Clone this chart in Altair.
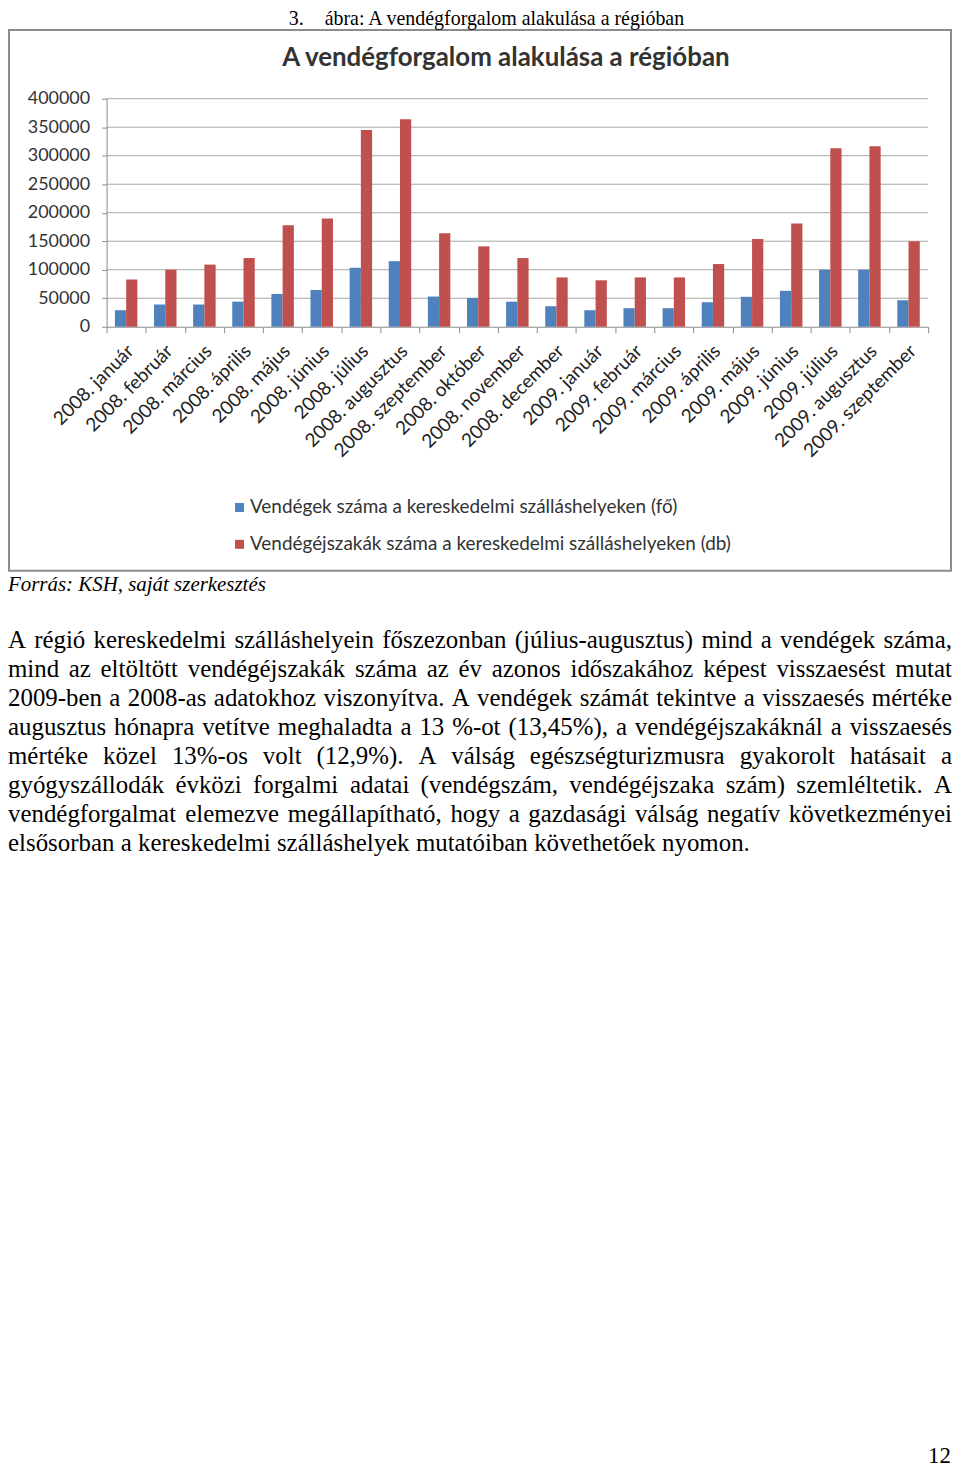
import altair as alt
import pandas as pd

# ---------------- data ----------------
months = ["2008. január", "2008. február", "2008. március", "2008. április", "2008. május",
          "2008. június", "2008. július", "2008. augusztus", "2008. szeptember", "2008. október",
          "2008. november", "2008. december", "2009. január", "2009. február", "2009. március",
          "2009. április", "2009. május", "2009. június", "2009. július", "2009. augusztus",
          "2009. szeptember"]
guests = [29000, 39000, 39000, 44000, 57500, 64500, 103500, 115000, 53000, 50500, 44000, 36000,
          29000, 32500, 32500, 43000, 52500, 63000, 100000, 100000, 46500]
nights = [83000, 100000, 109000, 120500, 178000, 190000, 345000, 364000, 164000, 141000, 120500,
          86500, 81500, 86500, 86500, 110000, 154000, 181000, 313000, 316500, 150000]
series = ["Vendégek száma a kereskedelmi szálláshelyeken (fő)",
          "Vendégéjszakák száma a kereskedelmi szálláshelyeken (db)"]
colors = ["#4F81BD", "#C0504D"]
y_ticks = [0, 50000, 100000, 150000, 200000, 250000, 300000, 350000, 400000]

chart_title = "A vendégforgalom alakulása a régióban"
caption_num = "3."
caption_text = "ábra: A vendégforgalom alakulása a régióban"
source_text = "Forrás: KSH, saját szerkesztés"
page_number = "12"
para_lines = [
    "A régió kereskedelmi szálláshelyein főszezonban (július-augusztus) mind a vendégek száma,",
    "mind az eltöltött vendégéjszakák száma az év azonos időszakához képest visszaesést mutat",
    "2009-ben a 2008-as adatokhoz viszonyítva. A vendégek számát tekintve a visszaesés mértéke",
    "augusztus hónapra vetítve meghaladta a 13 %-ot (13,45%), a vendégéjszakáknál a visszaesés",
    "mértéke közel 13%-os volt (12,9%). A válság egészségturizmusra gyakorolt hatásait a",
    "gyógyszállodák évközi forgalmi adatai (vendégszám, vendégéjszaka szám) szemléltetik. A",
    "vendégforgalmat elemezve megállapítható, hogy a gazdasági válság negatív következményei",
    "elsősorban a kereskedelmi szálláshelyek mutatóiban követhetőek nyomon.",
]

# ---------------- layout (styling) ----------------
W, H = 948, 1460
PX0, PX1, PY0, PY1 = 99, 924, 88, 317     # plot area in canvas px
SERIF = "Liberation Serif"
SANS = "Lato"

# Times-compatible advance widths (1/1000 em), used for justification
_w = {" ": 250, "%": 833, "(": 333, ")": 333, ",": 250, "-": 333, ".": 250, ":": 278}
for c in "0123456789":
    _w[c] = 500
for grp, val in [("AÁDGHKNOQUVXY", 722), ("BCR", 667), ("ELTZ", 611), ("FPS", 556), ("I", 333),
                 ("J", 389), ("M", 889), ("W", 944), ("aáceéz", 444), ("bdghknoóöőpquúüűvxy", 500),
                 ("fr", 333), ("iíjlt", 278), ("m", 778), ("s", 389), ("w", 722)]:
    for c in grp:
        _w[c] = val


def text_width(s, size):
    return sum(_w.get(c, 500) for c in s) / 1000.0 * size


PARA_FS = 25
PARA_L, PARA_R = 0, 948
PARA_BASE0, PARA_LH = 640, 29
word_rows = []
for i, line in enumerate(para_lines):
    words = line.split(" ")
    widths = [text_width(w, PARA_FS) for w in words]
    if i < len(para_lines) - 1 and len(words) > 1:
        gap = (PARA_R - PARA_L - sum(widths)) / (len(words) - 1)
    else:
        gap = text_width(" ", PARA_FS)
    x = PARA_L
    for w, wd in zip(words, widths):
        word_rows.append({"x": x, "y": PARA_BASE0 + i * PARA_LH, "t": w})
        x += wd + gap
words_df = pd.DataFrame(word_rows)

bars_df = pd.DataFrame(
    [{"month": m, "series": series[0], "value": g} for m, g in zip(months, guests)]
    + [{"month": m, "series": series[1], "value": n} for m, n in zip(months, nights)]
)
grid_df = pd.DataFrame({"v": y_ticks[1:]})


def text_layer(df, **mark):
    return alt.Chart(df).mark_text(**mark).encode(
        x=alt.X("x:Q", scale=None), y=alt.Y("y:Q", scale=None), text="t:N")


frame = alt.Chart(pd.DataFrame({"a": [0]})).mark_rect(
    fillOpacity=0, stroke="#8c8c8c", strokeWidth=2
).encode(x=alt.value(1), x2=alt.value(947), y=alt.value(19), y2=alt.value(562))

grid = alt.Chart(grid_df).mark_rule(color="#a6a6a6", strokeWidth=1).encode(
    y=alt.Y("v:Q", scale=alt.Scale(domain=[0, 400000], range=[PY1, PY0], nice=False), axis=None),
    x=alt.value(PX0), x2=alt.value(PX1),
)

bars = alt.Chart(bars_df).mark_bar().encode(
    x=alt.X("month:N", sort=months, title=None,
            scale=alt.Scale(domain=months, range=[PX0, PX1], paddingInner=0, paddingOuter=0),
            axis=alt.Axis(orient="bottom", offset=PY1 - H, labelAngle=-45, labelAlign="right",
                          labelBaseline="middle", tickBand="extent", grid=False,
                          domainColor="#8c8c8c", tickColor="#8c8c8c", tickSize=6,
                          labelFont=SANS, labelFontSize=19, labelColor="#222222",
                          labelPadding=15, labelOffset=4)),
    xOffset=alt.XOffset("series:N", sort=series,
                        scale=alt.Scale(domain=series, paddingInner=0, paddingOuter=0.74)),
    y=alt.Y("value:Q", title=None,
            scale=alt.Scale(domain=[0, 400000], range=[PY1, PY0], nice=False),
            axis=alt.Axis(values=y_ticks, offset=-PX0, grid=False, domainColor="#8c8c8c",
                          tickColor="#8c8c8c", tickSize=5, labelFont=SANS, labelFontSize=18,
                          labelColor="#333333", labelPadding=12, format="d")),
    color=alt.Color("series:N", sort=series, scale=alt.Scale(domain=series, range=colors),
                    legend=alt.Legend(orient="none", legendX=223, legendY=489, title=None,
                                      direction="vertical", symbolType="square", symbolSize=81,
                                      symbolStrokeWidth=0, labelFont=SANS, labelFontSize=19,
                                      labelColor="#333333", labelOffset=1, rowPadding=17,
                                      padding=0, labelLimit=600)),
)

title_df = pd.DataFrame([{"x": 500, "y": 55, "t": chart_title}])
title = text_layer(title_df, font=SANS, fontSize=26, fontWeight="bold", align="center",
                   baseline="alphabetic", color="#333333")

cap_df = pd.DataFrame([{"x": 282, "y": 14, "t": caption_num}, {"x": 318, "y": 14, "t": caption_text}])
caption = text_layer(cap_df, font=SERIF, fontSize=20, align="left", baseline="alphabetic",
                     color="#000000")

src_df = pd.DataFrame([{"x": 0, "y": 582, "t": source_text}])
source = text_layer(src_df, font=SERIF, fontSize=21, fontStyle="italic", align="left",
                    baseline="alphabetic", color="#000000")

para = text_layer(words_df, font=SERIF, fontSize=PARA_FS, align="left", baseline="alphabetic",
                  color="#000000")

pn_df = pd.DataFrame([{"x": 947, "y": 1458, "t": page_number}])
pnum = text_layer(pn_df, font=SERIF, fontSize=23, align="right", baseline="alphabetic",
                  color="#000000")

chart = alt.layer(frame, grid, bars, title, caption, source, para, pnum).resolve_scale(
    x="independent", y="independent", color="independent"
).properties(
    width=W, height=H, autosize=alt.AutoSizeParams(type="none"), padding=0,
    background="white",
).configure_view(stroke=None)

chart.save("out.html", embed_options={"renderer": "svg", "actions": False})
